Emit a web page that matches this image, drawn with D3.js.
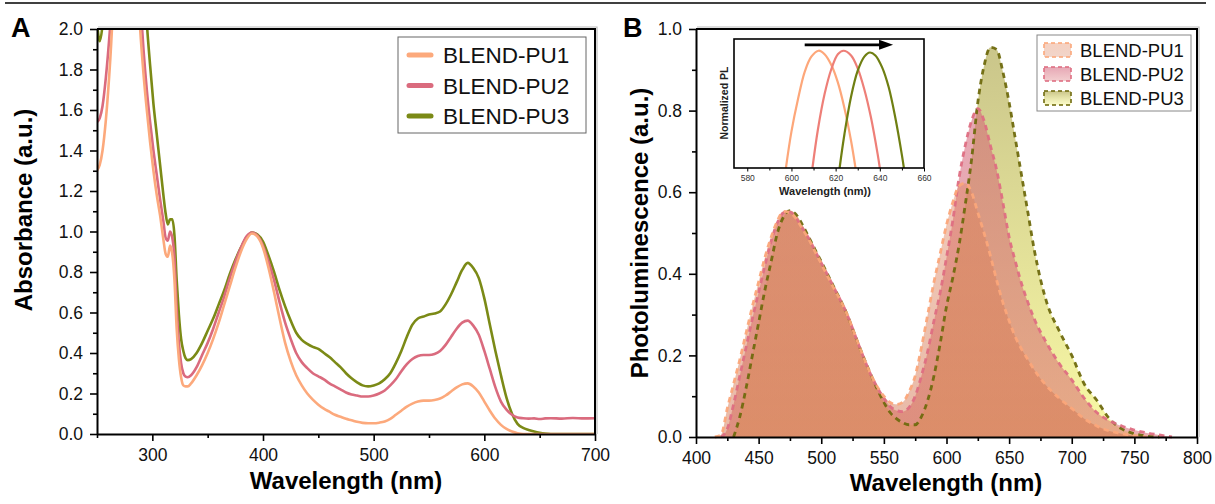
<!DOCTYPE html>
<html><head><meta charset="utf-8">
<script src="https://cdn.jsdelivr.net/npm/d3@7"></script>
<style>
body{margin:0;background:#fff;}
svg{display:block;font-family:"Liberation Sans",Arial,sans-serif;}
</style></head><body>
<svg id="chart" width="1215" height="504"></svg>
<script>
// ---------------- DATA ----------------
const seriesNames = ["BLEND-PU1", "BLEND-PU2", "BLEND-PU3"];

// Panel A : absorbance
const absWavelength = [250,252.5,255,258,262,266,270,275,280,285,289,292,295,298,301,304,307,310,312,314,316,318,320,322,324,326,328,330,332,
 335,340,345,350,355,360,365,370,375,380,385,390,395,400,405,410,415,420,425,430,435,440,445,450,455,460,465,470,475,480,485,490,495,500,
 505,510,515,520,525,530,535,540,545,550,555,560,565,570,575,580,585,590,595,600,605,610,615,620,625,630,635,640,645,650,655,660,670,680,690,700];
const absPU1 = [1.30,1.33,1.40,1.55,1.85,2.25,2.5,2.6,2.6,2.4,2.0,1.78,1.60,1.44,1.30,1.18,1.08,0.96,0.89,0.875,0.93,0.89,0.76,0.52,0.37,0.28,0.24,0.235,0.235,
 0.25,0.29,0.34,0.40,0.47,0.55,0.64,0.73,0.82,0.90,0.96,0.99,0.975,0.92,0.82,0.70,0.57,0.45,0.36,0.29,0.24,0.20,0.17,0.145,0.125,0.11,0.095,0.085,0.075,0.068,0.06,0.055,0.053,0.053,
 0.056,0.062,0.075,0.095,0.115,0.135,0.15,0.16,0.165,0.165,0.168,0.175,0.19,0.21,0.23,0.245,0.25,0.235,0.205,0.16,0.115,0.075,0.045,0.025,0.012,0.004,0,0,0,0,0,0,0,0,0,0];
const absPU2 = [1.54,1.56,1.62,1.76,2.02,2.35,2.6,2.7,2.7,2.5,2.15,1.90,1.70,1.54,1.40,1.28,1.16,1.05,0.97,0.955,1.0,0.97,0.87,0.62,0.45,0.35,0.30,0.283,0.28,
 0.29,0.33,0.39,0.45,0.52,0.60,0.68,0.77,0.85,0.92,0.975,0.995,0.98,0.93,0.85,0.76,0.65,0.55,0.47,0.40,0.355,0.325,0.30,0.285,0.27,0.25,0.235,0.22,0.205,0.195,0.19,0.185,0.185,0.19,
 0.20,0.215,0.24,0.27,0.31,0.345,0.37,0.385,0.39,0.39,0.395,0.41,0.44,0.48,0.52,0.55,0.56,0.535,0.49,0.41,0.32,0.23,0.16,0.12,0.095,0.082,0.078,0.076,0.077,0.074,0.077,0.078,0.076,0.079,0.077,0.078];
const absPU3 = [2.03,1.94,2.02,2.25,2.5,2.7,2.8,2.9,2.9,2.8,2.6,2.3,2.03,1.82,1.63,1.48,1.33,1.18,1.09,1.035,1.06,1.06,0.98,0.76,0.59,0.47,0.41,0.375,0.365,
 0.37,0.40,0.45,0.51,0.57,0.64,0.71,0.79,0.86,0.92,0.97,0.995,0.985,0.95,0.88,0.80,0.71,0.63,0.56,0.50,0.465,0.445,0.43,0.42,0.40,0.38,0.355,0.33,0.30,0.275,0.255,0.24,0.235,0.24,
 0.25,0.27,0.30,0.35,0.41,0.48,0.54,0.57,0.58,0.59,0.595,0.605,0.64,0.69,0.75,0.81,0.845,0.82,0.77,0.67,0.54,0.41,0.29,0.18,0.10,0.05,0.03,0.02,0.012,0.006,0.002,0,0,0,0,0];
const absXTicks = [300,400,500,600,700];
const absXMinor = [250,350,450,550,650];
const absYTicks = [0,0.2,0.4,0.6,0.8,1.0,1.2,1.4,1.6,1.8,2.0];
const absYMinor = [0.1,0.3,0.5,0.7,0.9,1.1,1.3,1.5,1.7,1.9];

// Panel B : photoluminescence
const plWavelength = [415,420,425,430,435,440,445,450,455,460,465,470,475,480,485,490,495,500,510,520,530,540,550,
 555,560,565,570,575,580,585,590,595,600,605,610,615,620,625,630,635,640,645,650,655,660,665,670,680,690,700,710,720,730,740,750,760,770,780];
const plPU1 = [0,0.005,0.07,0.13,0.19,0.255,0.32,0.38,0.44,0.49,0.53,0.553,0.55,0.535,0.51,0.485,0.455,0.425,0.365,0.305,0.225,0.15,0.10,
 0.085,0.08,0.085,0.11,0.15,0.22,0.30,0.38,0.45,0.52,0.575,0.615,0.622,0.60,0.55,0.50,0.445,0.385,0.33,0.285,0.245,0.215,0.19,0.165,0.125,0.095,0.07,0.045,0.027,0.015,0.008,0.003,0,0,0];
const plPU2 = [0,0,0.02,0.08,0.15,0.22,0.29,0.355,0.42,0.48,0.525,0.55,0.552,0.537,0.512,0.487,0.457,0.427,0.367,0.305,0.225,0.15,0.095,
 0.075,0.065,0.062,0.072,0.10,0.15,0.21,0.285,0.355,0.44,0.53,0.635,0.715,0.775,0.805,0.775,0.715,0.655,0.575,0.49,0.43,0.375,0.33,0.29,0.23,0.18,0.14,0.095,0.06,0.04,0.027,0.017,0.01,0.005,0];
const plPU3 = [0,0,0,0,0.05,0.12,0.20,0.28,0.36,0.43,0.50,0.54,0.555,0.545,0.52,0.49,0.46,0.43,0.368,0.305,0.225,0.15,0.085,
 0.06,0.045,0.035,0.03,0.03,0.05,0.09,0.15,0.23,0.32,0.39,0.47,0.57,0.68,0.82,0.91,0.955,0.95,0.895,0.82,0.73,0.64,0.55,0.46,0.33,0.26,0.20,0.13,0.09,0.045,0.02,0.008,0.002,0,0];
const plXTicks = [400,450,500,550,600,650,700,750,800];
const plXMinor = [425,475,525,575,625,675,725,775];
const plYTicks = [0,0.2,0.4,0.6,0.8,1.0];
const plYMinor = [0.1,0.3,0.5,0.7,0.9];

// Inset : normalized PL
const insetPU1Wl = [597.5,600,603,606,609,612.3,615,618,621,624,627,629];
const insetPU1 = [0,0.31,0.59,0.82,0.95,1.0,0.97,0.88,0.73,0.51,0.23,0];
const insetPU2Wl = [609.5,612,615,618,621,623.6,627,630,633,636,639,640];
const insetPU2 = [0,0.33,0.63,0.84,0.97,1.0,0.96,0.85,0.67,0.43,0.12,0];
const insetPU3Wl = [621.8,624,627,630,633,635.5,638,641,644,647,650,650.9];
const insetPU3 = [0,0.29,0.61,0.83,0.95,0.985,0.96,0.86,0.69,0.43,0.11,0];
const insetXTicks = [580,600,620,640,660];
const insetXMinor = [590,610,630,650];
const insetArrow = [606, 646]; // wavelength span of the red-shift arrow
const insetArrowLevel = 1.05;

// ---------------- STYLE ----------------
const lineColors = ["#FCA97C", "#DA6B7E", "#7B8A16"];
const insetColors = ["#FDA77A", "#EE7F78", "#6F7F12"];
const dashColors = ["#FBA77A", "#DE6E82", "#6F6A0E"];

const svg = d3.select("#chart");
const defs = svg.append("defs");

svg.append("line").attr("x1", 5).attr("x2", 1206).attr("y1", 3).attr("y2", 3)
  .attr("stroke", "#000").attr("stroke-width", 1.5);

function styleAxis(g, fs) {
  g.select(".domain").attr("stroke", "#000").attr("stroke-width", 2);
  g.selectAll(".tick line").attr("stroke", "#000").attr("stroke-width", 1.6);
  g.selectAll(".tick text").attr("font-size", fs).attr("fill", "#111");
}

// ---------------- PANEL A ----------------
const ax = d3.scaleLinear().domain([250, 700]).range([97, 595]);
const ay = d3.scaleLinear().domain([0, 2]).range([434, 29]);

defs.append("clipPath").attr("id", "clipA").append("rect")
  .attr("x", 97).attr("y", 29).attr("width", 498).attr("height", 405);

const absSeries = [absPU1, absPU2, absPU3];
const gA = svg.append("g");
const lineA = d3.line().x(d => ax(d[0])).y(d => ay(d[1])).curve(d3.curveMonotoneX);
[2, 1, 0].forEach(i => {
  const pts = absWavelength.map((w, j) => [w, absSeries[i][j]]);
  gA.append("path").attr("d", lineA(pts)).attr("clip-path", "url(#clipA)")
    .attr("fill", "none").attr("stroke", lineColors[i]).attr("stroke-width", 2.6)
    .attr("stroke-linejoin", "round");
});

// frame (top/right) with light shadow
gA.append("path").attr("d", `M${ax(250)+1},${ay(2)-2}H${ax(700)+2}V${ay(0)}`)
  .attr("fill", "none").attr("stroke", "#bbb").attr("stroke-width", 1.2);
gA.append("path").attr("d", `M${ax(250)},${ay(2)}H${ax(700)}V${ay(0)}`)
  .attr("fill", "none").attr("stroke", "#000").attr("stroke-width", 2);

const axAx = gA.append("g").attr("transform", `translate(0,${ay(0)})`)
  .call(d3.axisBottom(ax).tickValues(absXTicks).tickSize(7).tickPadding(8).tickSizeOuter(0).tickFormat(d3.format("d")));
styleAxis(axAx, 17.5);
const axAxm = gA.append("g").attr("transform", `translate(0,${ay(0)})`)
  .call(d3.axisBottom(ax).tickValues(absXMinor).tickSize(4).tickSizeOuter(0).tickFormat(""));
styleAxis(axAxm, 17); axAxm.select(".domain").remove();
const axAy = gA.append("g").attr("transform", `translate(${ax(250)},0)`)
  .call(d3.axisLeft(ay).tickValues(absYTicks).tickSize(7).tickPadding(7).tickSizeOuter(0).tickFormat(d3.format(".1f")));
styleAxis(axAy, 17.5);
const axAym = gA.append("g").attr("transform", `translate(${ax(250)},0)`)
  .call(d3.axisLeft(ay).tickValues(absYMinor).tickSize(4).tickSizeOuter(0).tickFormat(""));
styleAxis(axAym, 17); axAym.select(".domain").remove();

gA.append("text").attr("x", 346).attr("y", 489).attr("text-anchor", "middle")
  .attr("font-weight", "bold").attr("font-size", 24).text("Wavelength (nm)");
gA.append("text").attr("transform", "translate(32,210) rotate(-90)").attr("text-anchor", "middle")
  .attr("font-weight", "bold").attr("font-size", 24).text("Absorbance (a.u.)");
gA.append("text").attr("x", 11).attr("y", 37).attr("font-weight", "bold").attr("font-size", 27).text("A");

// legend A
const legA = gA.append("g");
legA.append("rect").attr("x", 398).attr("y", 37).attr("width", 188).attr("height", 96)
  .attr("fill", "#fff").attr("stroke", "#666").attr("stroke-width", 1);
seriesNames.forEach((n, i) => {
  const yy = 55 + i * 30.5;
  legA.append("line").attr("x1", 409).attr("x2", 431).attr("y1", yy).attr("y2", yy)
    .attr("stroke", lineColors[i]).attr("stroke-width", 5).attr("stroke-linecap", "round");
  legA.append("text").attr("x", 443).attr("y", yy + 8).attr("font-size", 22.5).attr("fill", "#111").text(n);
});

// ---------------- PANEL B ----------------
const bx = d3.scaleLinear().domain([400, 800]).range([696, 1197]);
const by = d3.scaleLinear().domain([0, 1]).range([437, 29]);

const gradSpecs = [
  {id: "g1", c0: "#E88E66", o0: 0.4, c1: "#D06E48", o1: 0.48},
  {id: "g2", c0: "#D25E78", o0: 0.55, c1: "#D86A70", o1: 0.55},
  {id: "g3", c0: "#A39B3A", o0: 0.6, c1: "#F5F56A", o1: 0.6}
];
gradSpecs.forEach(s => {
  const g = defs.append("linearGradient").attr("id", s.id).attr("gradientUnits", "userSpaceOnUse")
    .attr("x1", 0).attr("x2", 0).attr("y1", by(1)).attr("y2", by(0));
  g.append("stop").attr("offset", 0).attr("stop-color", s.c0).attr("stop-opacity", s.o0);
  g.append("stop").attr("offset", 1).attr("stop-color", s.c1).attr("stop-opacity", s.o1);
  const gl = defs.append("linearGradient").attr("id", s.id + "L").attr("x1", 0).attr("x2", 0).attr("y1", 0).attr("y2", 1);
  gl.append("stop").attr("offset", 0).attr("stop-color", s.c0).attr("stop-opacity", s.o0);
  gl.append("stop").attr("offset", 1).attr("stop-color", s.c1).attr("stop-opacity", s.o1 * 0.6);
});

const plSeries = [plPU1, plPU2, plPU3];
const gB = svg.append("g");
const areaB = d3.area().x(d => bx(d[0])).y0(by(0)).y1(d => by(d[1])).curve(d3.curveMonotoneX);
const lineB = d3.line().x(d => bx(d[0])).y(d => by(d[1])).curve(d3.curveMonotoneX);
function trimmed(vals) {
  return plWavelength.map((w, j) => [w, vals[j], j]).filter(p => {
    const j = p[2];
    return vals[j] > 0 || (j > 0 && vals[j - 1] > 0) || (j < vals.length - 1 && vals[j + 1] > 0);
  });
}
[2, 1, 0].forEach(i => {
  gB.append("path").attr("d", areaB(trimmed(plSeries[i]))).attr("fill", `url(#g${i + 1})`);
});
[2, 1, 0].forEach(i => {
  gB.append("path").attr("d", lineB(trimmed(plSeries[i]))).attr("fill", "none")
    .attr("stroke", dashColors[i]).attr("stroke-width", 2.8).attr("stroke-dasharray", "5.5,4.5")
    .attr("stroke-opacity", 0.95);
});

gB.append("path").attr("d", `M${bx(400)+1},${by(1)-2}H${bx(800)+2}V${by(0)}`)
  .attr("fill", "none").attr("stroke", "#bbb").attr("stroke-width", 1.2);
gB.append("path").attr("d", `M${bx(400)},${by(1)}H${bx(800)}V${by(0)}`)
  .attr("fill", "none").attr("stroke", "#000").attr("stroke-width", 2);

const bxA = gB.append("g").attr("transform", `translate(0,${by(0)})`)
  .call(d3.axisBottom(bx).tickValues(plXTicks).tickSize(7).tickPadding(8).tickSizeOuter(0).tickFormat(d3.format("d")));
styleAxis(bxA, 17.5);
const bxAm = gB.append("g").attr("transform", `translate(0,${by(0)})`)
  .call(d3.axisBottom(bx).tickValues(plXMinor).tickSize(4).tickSizeOuter(0).tickFormat(""));
styleAxis(bxAm, 17); bxAm.select(".domain").remove();
const byA = gB.append("g").attr("transform", `translate(${bx(400)},0)`)
  .call(d3.axisLeft(by).tickValues(plYTicks).tickSize(7).tickPadding(7).tickSizeOuter(0).tickFormat(d3.format(".1f")));
styleAxis(byA, 17.5);
const byAm = gB.append("g").attr("transform", `translate(${bx(400)},0)`)
  .call(d3.axisLeft(by).tickValues(plYMinor).tickSize(4).tickSizeOuter(0).tickFormat(""));
styleAxis(byAm, 17); byAm.select(".domain").remove();

gB.append("text").attr("x", 946).attr("y", 491).attr("text-anchor", "middle")
  .attr("font-weight", "bold").attr("font-size", 24).text("Wavelength (nm)");
gB.append("text").attr("transform", "translate(648,233) rotate(-90)").attr("text-anchor", "middle")
  .attr("font-weight", "bold").attr("font-size", 24).text("Photoluminescence (a.u.)");
gB.append("text").attr("x", 623).attr("y", 37).attr("font-weight", "bold").attr("font-size", 27).text("B");

// legend B
const legB = gB.append("g");
legB.append("rect").attr("x", 1037).attr("y", 35).attr("width", 154).attr("height", 76)
  .attr("fill", "#fff").attr("stroke", "#888").attr("stroke-width", 1);
seriesNames.forEach((n, i) => {
  const yy = 50 + i * 24;
  legB.append("rect").attr("x", 1044).attr("y", yy - 7).attr("width", 27).attr("height", 14)
    .attr("fill", `url(#g${i + 1}L)`).attr("stroke", dashColors[i]).attr("stroke-width", 2)
    .attr("stroke-dasharray", "4,3").attr("stroke-opacity", 0.8);
  legB.append("text").attr("x", 1080).attr("y", yy + 6.5).attr("font-size", 18.5).attr("fill", "#111").text(n);
});

// ---------------- INSET ----------------
const ix = d3.scaleLinear().domain([574, 660]).range([734, 924]);
const iy = d3.scaleLinear().domain([0, 1.1]).range([168, 39]);
const gI = svg.append("g");
gI.append("rect").attr("x", ix(574)).attr("y", iy(1.1)).attr("width", ix(660) - ix(574)).attr("height", iy(0) - iy(1.1))
  .attr("fill", "#fff").attr("stroke", "none");
const insetData = [[insetPU1Wl, insetPU1], [insetPU2Wl, insetPU2], [insetPU3Wl, insetPU3]];
const lineI = d3.line().x(d => ix(d[0])).y(d => iy(d[1])).curve(d3.curveCatmullRom);
insetData.forEach((s, i) => {
  gI.append("path").attr("d", lineI(s[0].map((w, j) => [w, s[1][j]]))).attr("fill", "none")
    .attr("stroke", insetColors[i]).attr("stroke-width", 2.2);
});
gI.append("rect").attr("x", ix(574)).attr("y", iy(1.1)).attr("width", ix(660) - ix(574)).attr("height", iy(0) - iy(1.1))
  .attr("fill", "none").attr("stroke", "#000").attr("stroke-width", 1.6);
const ixA = gI.append("g").attr("transform", `translate(0,${iy(0)})`)
  .call(d3.axisBottom(ix).tickValues(insetXTicks).tickSize(3.5).tickPadding(3).tickSizeOuter(0).tickFormat(d3.format("d")));
styleAxis(ixA, 8.5); ixA.select(".domain").remove();
ixA.selectAll(".tick text").attr("fill", "#333");
const ixAm = gI.append("g").attr("transform", `translate(0,${iy(0)})`)
  .call(d3.axisBottom(ix).tickValues(insetXMinor).tickSize(2.5).tickSizeOuter(0).tickFormat(""));
styleAxis(ixAm, 8); ixAm.select(".domain").remove();
gI.selectAll(".tick line").attr("stroke-width", 1);

// arrow
const ay0 = iy(insetArrowLevel);
gI.append("line").attr("x1", ix(insetArrow[0])).attr("x2", ix(insetArrow[1]) - 10).attr("y1", ay0).attr("y2", ay0)
  .attr("stroke", "#000").attr("stroke-width", 2.6);
gI.append("path").attr("d", `M${ix(insetArrow[1])},${ay0}L${ix(insetArrow[1]) - 14},${ay0 - 5}L${ix(insetArrow[1]) - 14},${ay0 + 5}Z`)
  .attr("fill", "#000");

gI.append("text").attr("x", 825).attr("y", 195).attr("text-anchor", "middle")
  .attr("font-weight", "bold").attr("font-size", 11).attr("fill", "#222").text("Wavelength (nm))");
gI.append("text").attr("transform", "translate(728,103) rotate(-90)").attr("text-anchor", "middle")
  .attr("font-weight", "bold").attr("font-size", 10.5).attr("fill", "#222").text("Normalized PL");
</script>
</body></html>
